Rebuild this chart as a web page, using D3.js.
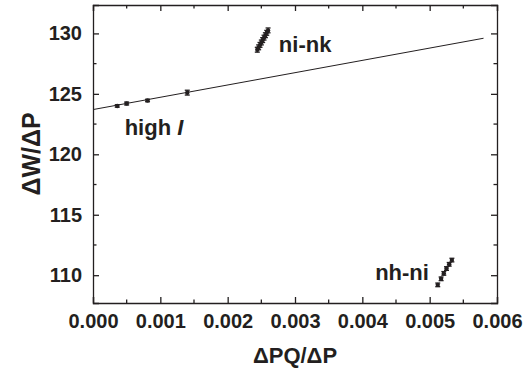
<!DOCTYPE html>
<html>
<head>
<meta charset="utf-8">
<script src="https://cdn.jsdelivr.net/npm/d3@7"></script>
<style>
  body { margin: 0; background: #fff; }
  text { font-family: "Liberation Sans", Arial, sans-serif; font-weight: bold; fill: #231f20; }
</style>
</head>
<body>
<div id="chart"></div>
<script>
var svgWidth = 525;
var svgHeight = 375;

var margin = { top: 5, right: 28, bottom: 72, left: 93 };
var width = svgWidth - margin.left - margin.right;
var height = svgHeight - margin.top - margin.bottom;

// data
var highX = [0.00036, 0.0005, 0.00081, 0.0014];
var highY = [124.0, 124.2, 124.45, 125.1];
var highErr = [0.1, 0.12, 0.1, 0.2];

var ninkX = [0.00244, 0.00246, 0.00248, 0.0025, 0.00252, 0.00254, 0.00256, 0.00258, 0.0026];
var ninkY = [128.65, 128.85, 129.05, 129.25, 129.45, 129.65, 129.85, 130.05, 130.25];
var ninkErr = [0.2, 0.2, 0.2, 0.2, 0.2, 0.2, 0.2, 0.2, 0.2];

var nhniX = [0.00512, 0.00517, 0.00521, 0.00525, 0.00529, 0.00533];
var nhniY = [109.2, 109.7, 110.15, 110.55, 110.9, 111.25];
var nhniErr = [0.15, 0.15, 0.15, 0.15, 0.15, 0.15];

var fitX = [0, 0.0058];
var fitY = [123.7, 129.6];

var xTicks = [0, 0.001, 0.002, 0.003, 0.004, 0.005, 0.006];
var yTicks = [110, 115, 120, 125, 130];

var svg = d3.select("#chart").append("svg")
  .attr("width", svgWidth)
  .attr("height", svgHeight);

var chartGroup = svg.append("g")
  .attr("transform", `translate(${margin.left}, ${margin.top})`);

var xLinear = d3.scaleLinear().domain([0, 0.006]).range([0, width]);
var yLinear = d3.scaleLinear().domain([107.7, 132.35]).range([height, 0]);

// minor ticks every half step
var xMinor = d3.range(0.0005, 0.006, 0.001);
var yMinor = d3.range(107.5, 132.5, 5).filter(v => v > 107.7 && v < 132.35);

// dir: which way the minor ticks point (inward)
function drawAxis(axisFn, scale, ticks, minor, transform, fmt, dir, horizontal) {
  var g = chartGroup.append("g").attr("transform", transform);
  g.call(axisFn(scale).tickValues(ticks).tickSize(-6).tickPadding(11)
    .tickFormat(fmt ? d3.format(fmt) : ""));
  minor.forEach(function(v) {
    var l = g.append("line");
    if (horizontal) {
      l.attr("x1", scale(v)).attr("x2", scale(v)).attr("y1", 0).attr("y2", dir * 3.5);
    } else {
      l.attr("y1", scale(v)).attr("y2", scale(v)).attr("x1", 0).attr("x2", dir * 3.5);
    }
  });
  g.selectAll("line, path").attr("stroke", "#231f20").attr("stroke-width", 1.3);
  g.selectAll("text").style("font-size", "20px");
  return g;
}

drawAxis(d3.axisBottom, xLinear, xTicks, xMinor, `translate(0, ${height})`, ".3f", -1, true);
drawAxis(d3.axisTop, xLinear, xTicks, xMinor, `translate(0, 0)`, null, 1, true);
drawAxis(d3.axisLeft, yLinear, yTicks, yMinor, `translate(0, 0)`, "d", 1, false);
drawAxis(d3.axisRight, yLinear, yTicks, yMinor, `translate(${width}, 0)`, null, -1, false);

// fit line
chartGroup.append("line")
  .attr("x1", xLinear(fitX[0])).attr("y1", yLinear(fitY[0]))
  .attr("x2", xLinear(fitX[1])).attr("y2", yLinear(fitY[1]))
  .attr("stroke", "#231f20").attr("stroke-width", 1);

function drawSeries(xs, ys, errs) {
  var pts = xs.map((x, i) => ({ x: x, y: ys[i], e: errs[i] }));
  var g = chartGroup.append("g").attr("stroke", "#231f20").attr("stroke-width", 1.3);
  g.selectAll(".err").data(pts).enter().append("line")
    .attr("x1", d => xLinear(d.x)).attr("x2", d => xLinear(d.x))
    .attr("y1", d => yLinear(d.y - d.e)).attr("y2", d => yLinear(d.y + d.e));
  g.selectAll(".capT").data(pts).enter().append("line")
    .attr("x1", d => xLinear(d.x) - 2.5).attr("x2", d => xLinear(d.x) + 2.5)
    .attr("y1", d => yLinear(d.y + d.e)).attr("y2", d => yLinear(d.y + d.e));
  g.selectAll(".capB").data(pts).enter().append("line")
    .attr("x1", d => xLinear(d.x) - 2.5).attr("x2", d => xLinear(d.x) + 2.5)
    .attr("y1", d => yLinear(d.y - d.e)).attr("y2", d => yLinear(d.y - d.e));
  g.selectAll("circle").data(pts).enter().append("circle")
    .attr("cx", d => xLinear(d.x)).attr("cy", d => yLinear(d.y))
    .attr("r", 2.2).attr("fill", "#231f20").attr("stroke", "none");
}

drawSeries(highX, highY, highErr);
drawSeries(ninkX, ninkY, ninkErr);
drawSeries(nhniX, nhniY, nhniErr);

// annotations
chartGroup.append("text").attr("x", xLinear(0.00276)).attr("y", yLinear(128.5))
  .style("font-size", "22px").text("ni-nk");
var hi = chartGroup.append("text").attr("x", xLinear(0.00047)).attr("y", yLinear(121.6))
  .style("font-size", "22px").text("high ");
hi.append("tspan").style("font-style", "italic").text("I");
chartGroup.append("text").attr("x", xLinear(0.00419)).attr("y", yLinear(109.6))
  .style("font-size", "22px").text("nh-ni");

// axis titles
chartGroup.append("text")
  .attr("x", width / 2).attr("y", height + 60)
  .attr("text-anchor", "middle").style("font-size", "22px")
  .text("ΔPQ/ΔP");
chartGroup.append("text")
  .attr("transform", "rotate(-90)")
  .attr("x", -height / 2).attr("y", -53)
  .attr("text-anchor", "middle").style("font-size", "25px")
  .text("ΔW/ΔP");
</script>
</body>
</html>
